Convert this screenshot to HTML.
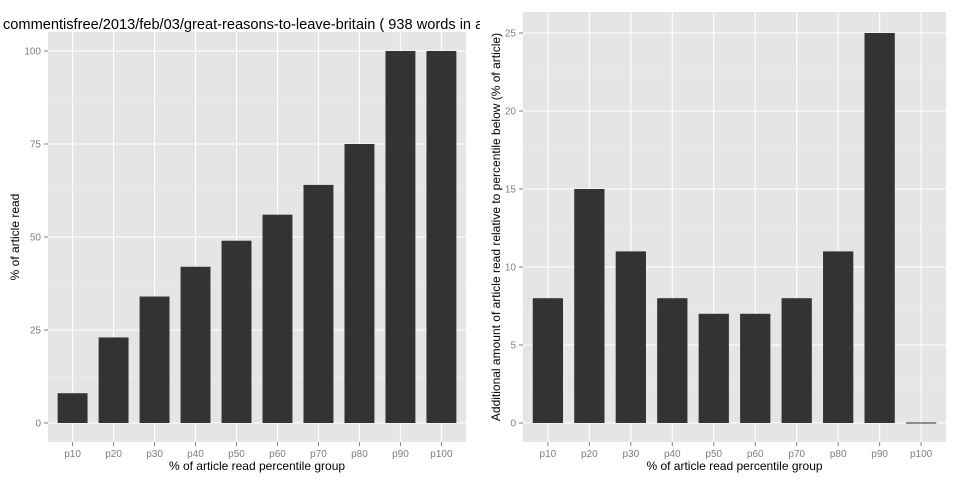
<!DOCTYPE html>
<html><head><meta charset="utf-8"><style>
body{margin:0;background:#fff;}
svg{display:block;font-family:"Liberation Sans",sans-serif;}
</style></head><body>
<svg id="c" width="960" height="480" viewBox="0 0 960 480">
<defs><clipPath id="lc"><rect x="0" y="0" width="480" height="480"/></clipPath></defs>
<g id="left"></g>
<g id="right"></g>
</svg>
<script>
const categories = ["p10","p20","p30","p40","p50","p60","p70","p80","p90","p100"];
const leftValues = [8,23,34,42,49,56,64,75,100,100];
const rightValues = [8,15,11,8,7,7,8,11,25,0];
const leftTicks = [0,25,50,75,100];
const rightTicks = [0,5,10,15,20,25];
const NS="http://www.w3.org/2000/svg";
function mk(parent,tag,attrs,txt){const e=document.createElementNS(NS,tag);for(const k in attrs)e.setAttribute(k,attrs[k]);if(txt!==undefined)e.textContent=txt;parent.appendChild(e);return e;}
function panel(g,cfg){
  const {x0,x1,y0,y1,zeroY,maxVal,maxY,vals,ticks,ylab,ylabX}=cfg;
  const ys=v=>zeroY-(zeroY-maxY)*v/maxVal;
  const n=categories.length;
  const step=(x1-x0)/(n+0.2);
  const xs=i=>x0+step*(0.6+i);
  const bg=mk(g,"rect",{x:x0,y:y0,width:x1-x0,height:y1-y0,fill:"#e5e5e5"});
  
  
  const tstep=ticks[1]-ticks[0];
  for(let i=0;i<ticks.length;i++){
    const mv=ticks[i]+tstep/2, my=ys(mv);
    if(my>y0) mk(g,"line",{x1:x0,x2:x1,y1:my,y2:my,stroke:"#f2f2f2","stroke-width":0.6});
    const mv2=ticks[i]-tstep/2, my2=ys(mv2);
    if(my2<y1&&i==0) mk(g,"line",{x1:x0,x2:x1,y1:my2,y2:my2,stroke:"#f2f2f2","stroke-width":0.6});
  }
  ticks.forEach(t=>{
    const y=ys(t);
    mk(g,"line",{x1:x0,x2:x1,y1:y,y2:y,stroke:"#fff","stroke-width":1.1});
    mk(g,"line",{x1:x0-4,x2:x0,y1:y,y2:y,stroke:"#7f7f7f","stroke-width":1});
    const tl=mk(g,"text",{x:x0-7,y:y+3.5,"text-anchor":"end","font-size":10,fill:"#7f7f7f"},String(t));
    
    
  });
  categories.forEach((c,i)=>{
    const x=xs(i);
    mk(g,"line",{x1:x,x2:x,y1:y0,y2:y1,stroke:"#fff","stroke-width":1.1});
    mk(g,"line",{x1:x,x2:x,y1:y1,y2:y1+4,stroke:"#7f7f7f","stroke-width":1});
    const tl=mk(g,"text",{x:x,y:y1+15,"text-anchor":"middle","font-size":10,fill:"#7f7f7f"},c);
    
    
  });
  vals.forEach((v,i)=>{
    const bw=step*0.73, top=ys(v);
    const b=mk(g,"rect",{x:xs(i)-bw/2,y:Math.min(top,zeroY-0.5),width:bw,height:Math.max(zeroY-top,1),fill:"#333"});
    
    
  });
  const xl=mk(g,"text",{x:(x0+x1)/2,y:y1+28,"text-anchor":"middle","font-size":12,fill:"#000"},"% of article read percentile group");
  
  
  const yc=(y0+y1)/2;
  const yl=mk(g,"text",{x:ylabX,y:yc,"text-anchor":"middle","font-size":12,fill:"#000",transform:`rotate(-90 ${ylabX} ${yc})`},ylab);
  
  
}
const L=document.getElementById("left"), R=document.getElementById("right");
panel(L,{x0:48,x1:466,y0:32,y1:442,zeroY:423,maxY:51,maxVal:100,vals:leftValues,ticks:leftTicks,ylab:"% of article read",ylabX:19});
const t=mk(L,"text",{x:3,y:29,"font-size":14.6,fill:"#000","clip-path":"url(#lc)"},"commentisfree/2013/feb/03/great-reasons-to-leave-britain ( 938 words in article)");


panel(R,{x0:523,x1:946,y0:12,y1:442,zeroY:423,maxY:33,maxVal:25,vals:rightValues,ticks:rightTicks,ylab:"Additional amount of article read relative to percentile below (% of article)",ylabX:500});
</script>
</body></html>
